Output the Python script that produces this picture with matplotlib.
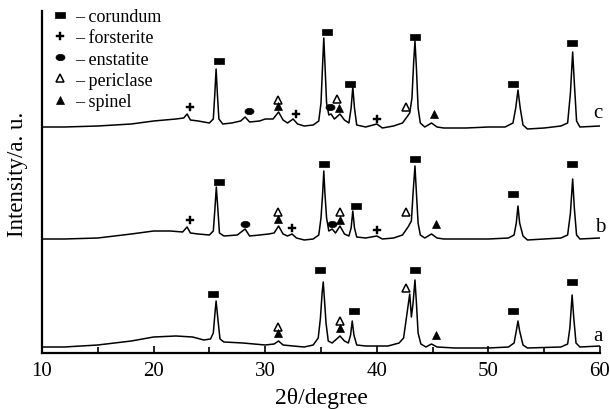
import numpy as np
import matplotlib
matplotlib.use("Agg")
import matplotlib.pyplot as plt
from matplotlib.lines import Line2D

plt.rcParams['font.family'] = ['Liberation Serif', 'DejaVu Serif']
plt.rcParams['mathtext.fontset'] = 'stix'

# ---- traced patterns (2theta, intensity a.u.) ----
trace_c = [(10, 226), (12, 226), (15, 227), (18, 229), (20, 232), (22, 234), (22.7, 235),
           (23.0, 239), (23.3, 233), (24, 232), (25.0, 230), (25.35, 234), (25.48, 258),
           (25.6, 284), (25.72, 258), (25.85, 234), (26.2, 229), (27, 230), (27.8, 232),
           (28.2, 236), (28.6, 231), (29.5, 232), (30, 234), (30.7, 234), (31.2, 241),
           (31.6, 233), (32.0, 230), (32.5, 234), (32.9, 229), (33.5, 227), (34.3, 228),
           (34.8, 232), (35.0, 250), (35.15, 290), (35.25, 315), (35.35, 290), (35.5, 250),
           (35.7, 238), (35.9, 239), (36.2, 234), (36.7, 239), (37.1, 233), (37.5, 230),
           (37.7, 245), (37.85, 266), (38.0, 245), (38.2, 228), (39, 226), (40.0, 229),
           (40.5, 225), (41.5, 227), (42.3, 230), (42.7, 236), (42.95, 240), (43.15, 255),
           (43.3, 290), (43.42, 312), (43.55, 285), (43.7, 245), (43.9, 230), (44.3, 226),
           (44.9, 230), (45.4, 226), (46, 225), (48, 225), (50, 226), (51.5, 226),
           (52.2, 230), (52.45, 245), (52.65, 263), (52.85, 245), (53.1, 228), (53.5, 224),
           (55, 225), (56.5, 227), (57.1, 230), (57.35, 260), (57.55, 301), (57.7, 270),
           (57.9, 232), (58.2, 226), (60, 227)]

trace_b = [(10, 114), (12, 114), (15, 115), (18, 119), (20, 122), (21.5, 122), (22.6, 121),
           (23.0, 126), (23.3, 120), (24, 119), (25.0, 118), (25.35, 122), (25.5, 145),
           (25.62, 166), (25.75, 145), (25.9, 120), (26.3, 117), (27.5, 118), (28.2, 124),
           (28.6, 117), (29.5, 118), (30.3, 119), (30.8, 120), (31.2, 127), (31.6, 119),
           (32.0, 117), (32.4, 119), (32.8, 115), (33.5, 113), (34.3, 114), (34.8, 118),
           (35.0, 135), (35.15, 160), (35.25, 182), (35.35, 160), (35.5, 135), (35.7, 122),
           (36.0, 124), (36.3, 120), (36.7, 127), (37.1, 119), (37.5, 117), (37.7, 125),
           (37.85, 142), (38.0, 125), (38.2, 116), (39, 115), (40.0, 117), (40.5, 114),
           (41.5, 115), (42.3, 118), (42.8, 126), (43.1, 132), (43.25, 160), (43.42, 187),
           (43.55, 160), (43.7, 130), (43.9, 118), (44.3, 115), (44.9, 119), (45.4, 115),
           (46, 114), (50, 114), (51.8, 115), (52.3, 118), (52.5, 130), (52.65, 147),
           (52.8, 130), (53.1, 117), (53.5, 113), (56.5, 115), (57.1, 118), (57.35, 140),
           (57.55, 174), (57.7, 145), (57.9, 118), (58.2, 114), (60, 115)]

trace_a = [(10, 6), (12, 6), (15, 8), (18, 12), (20, 16), (22, 17), (23.5, 16), (24.5, 13),
           (25.1, 14), (25.35, 20), (25.5, 40), (25.6, 52), (25.75, 35), (25.95, 14),
           (26.3, 11), (28, 10), (30, 8), (30.8, 9), (31.2, 12), (31.6, 8), (32.5, 7),
           (33.5, 6), (34.3, 8), (34.75, 15), (34.95, 35), (35.1, 60), (35.2, 71),
           (35.3, 55), (35.45, 30), (35.65, 12), (36.0, 10), (36.7, 17), (37.1, 12),
           (37.45, 10), (37.65, 18), (37.8, 32), (37.95, 18), (38.2, 8), (39, 7), (41, 7),
           (42.0, 10), (42.4, 15), (42.65, 35), (42.95, 59), (43.1, 36), (43.25, 50),
           (43.42, 73), (43.55, 50), (43.7, 20), (43.95, 9), (44.4, 6), (44.9, 9),
           (45.4, 6), (47, 5), (50, 5), (51.8, 6), (52.3, 10), (52.5, 22), (52.65, 32),
           (52.8, 22), (53.1, 8), (53.5, 5), (56.5, 6), (57.1, 9), (57.3, 25), (57.5, 58),
           (57.65, 35), (57.85, 10), (58.2, 6), (60, 7)]

trace_names = ['c', 'b', 'a']
trace_label_pos = [(59.8, 241), (60.0, 126), (59.8, 17)]

# ---- phase marker positions ----
corundum = [(25.86, 292), (35.54, 321), (37.6, 269), (43.42, 316), (52.2, 269), (57.5, 310),
            (25.86, 171), (35.27, 189), (38.14, 147), (43.42, 194), (52.2, 159), (57.5, 189),
            (25.32, 59), (34.9, 83), (37.96, 42), (43.42, 83), (52.2, 42), (57.5, 71)]
forsterite = [(23.26, 246), (32.76, 239), (40.0, 234),
              (23.26, 133), (32.4, 125), (40.0, 123)]
enstatite = [(28.55, 242), (35.8, 246), (28.19, 129), (35.99, 129)]
periclase = [(31.15, 253), (36.43, 254), (42.6, 246),
             (31.15, 141), (36.7, 141), (42.6, 141),
             (31.15, 26), (36.7, 32), (42.6, 65)]
spinel = [(31.15, 247), (36.6, 245), (45.13, 239),
          (31.15, 134), (36.7, 133), (45.3, 129),
          (31.15, 20), (36.7, 25), (45.3, 18)]

phase_names = ['corundum', 'forsterite', 'enstatite', 'periclase', 'spinel']

x_ticks = [10, 20, 30, 40, 50, 60]
x_minor = [15, 25, 35, 45, 55]

# ---- marker shapes ----
rect = [(-1, -0.62), (1, -0.62), (1, 0.62), (-1, 0.62), (-1, -0.62)]
t = np.linspace(0, 2 * np.pi, 40)
ellipse = list(zip(np.cos(t), 0.7 * np.sin(t)))

styles = {
    'corundum': dict(marker=rect, ms=7, mfc='black', mec='black', mew=0.5),
    'forsterite': dict(marker='P', ms=5.2, mfc='black', mec='black', mew=0.3),
    'enstatite': dict(marker=ellipse, ms=6.5, mfc='black', mec='black', mew=0.5),
    'periclase': dict(marker='^', ms=5.2, mfc='white', mec='black', mew=1.1),
    'spinel': dict(marker='^', ms=5.2, mfc='black', mec='black', mew=0.5),
}
phase_data = {'corundum': corundum, 'forsterite': forsterite, 'enstatite': enstatite,
              'periclase': periclase, 'spinel': spinel}

fig = plt.figure(figsize=(6.1, 4.1), dpi=100)
ax = fig.add_axes([42 / 610, 56 / 410, 558 / 610, 342 / 410])

for tr in (trace_c, trace_b, trace_a):
    arr = np.array(tr, dtype=float)
    ax.plot(arr[:, 0], arr[:, 1], color='black', lw=1.1)

for name, pos in zip(trace_names, trace_label_pos):
    ax.text(pos[0], pos[1], name, fontsize=15, ha='center', va='center', clip_on=False)

for name in phase_names:
    arr = np.array(phase_data[name], dtype=float)
    ax.plot(arr[:, 0], arr[:, 1], ls='none', clip_on=False, **styles[name])

handles = [Line2D([], [], ls='none', **styles[n]) for n in phase_names]
ax.legend(handles, ['– ' + n for n in phase_names], loc='upper left',
          bbox_to_anchor=(-0.0045, 1.045), frameon=False, fontsize=13,
          handlelength=0.9, handletextpad=0.35, labelspacing=0.23, borderaxespad=0.3)

ax.set_xlim(10, 60)
ax.set_ylim(0, 342)
ax.set_xticks(x_ticks)
ax.set_xticks(x_minor, minor=True)
ax.set_yticks([])
ax.tick_params(axis='x', which='major', direction='in', length=5, width=1.2,
               labelsize=15, pad=6)
ax.tick_params(axis='x', which='minor', direction='in', length=4, width=1.2)
for s in ['top', 'right']:
    ax.spines[s].set_visible(False)
for s in ['left', 'bottom']:
    ax.spines[s].set_linewidth(1.6)

ax.set_xlabel('2θ/degree', fontsize=17, labelpad=5)
ax.set_ylabel('Intensity/a. u.', fontsize=16.5)
ax.yaxis.set_label_coords(-0.025, 0.526)

fig.savefig('out.png', dpi=100)
